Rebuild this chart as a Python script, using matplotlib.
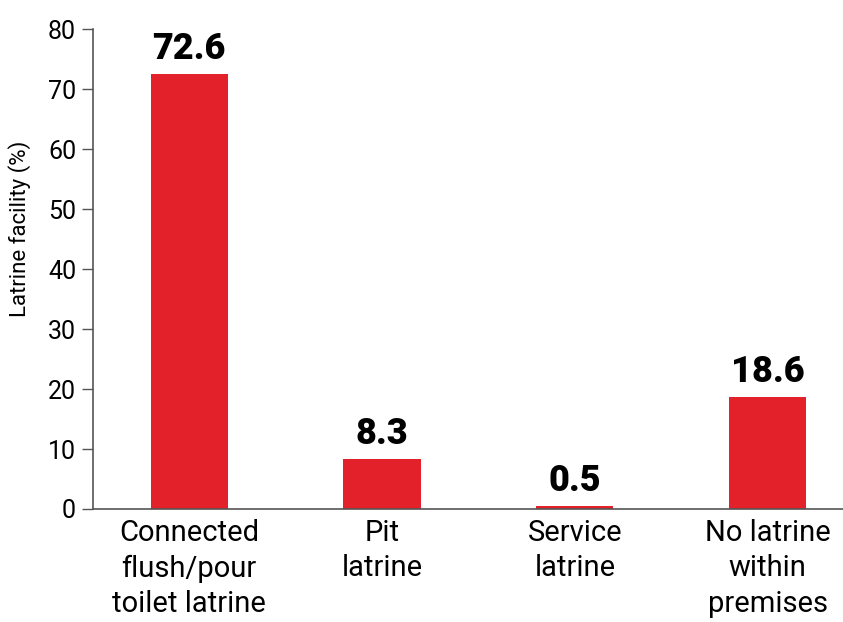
import matplotlib
matplotlib.use("Agg")
import matplotlib.pyplot as plt
from matplotlib import font_manager

categories = ["Connected\nflush/pour\ntoilet latrine", "Pit\nlatrine", "Service\nlatrine", "No latrine\nwithin\npremises"]
values = [72.6, 8.3, 0.5, 18.6]
yticks = [0, 10, 20, 30, 40, 50, 60, 70, 80]

names = {f.name for f in font_manager.fontManager.ttflist}
fam = "Roboto" if "Roboto" in names else "DejaVu Sans"
plt.rcParams['font.family'] = [fam, 'DejaVu Sans']

fig = plt.figure(figsize=(8.43, 6.22), dpi=100)
ax = fig.add_axes([0.110, 0.1817, 0.890, 0.7713])
x = list(range(len(categories)))
ax.bar(x, values, width=0.4, color="#e3212b")
for xi, v in zip(x, values):
    ax.annotate(f"{v}", (xi, v), xytext=(0, 5), textcoords="offset points",
                ha="center", va="bottom", fontsize=26, fontweight="black")
ax.set_xlim(-0.5, 3.39)
ax.set_ylim(0, 80)
ax.set_yticks(yticks)
ax.set_xticks(x)
ax.set_xticklabels(categories, fontsize=21, linespacing=1.35)
ax.tick_params(axis='x', length=0, pad=7)
ax.tick_params(axis='y', length=8, width=1, color="#555555", labelsize=18, pad=4)
for s in ["top", "right"]:
    ax.spines[s].set_visible(False)
for s in ["left", "bottom"]:
    ax.spines[s].set_color("#555555")
    ax.spines[s].set_linewidth(1.2)
ax.set_ylabel("Latrine facility (%)", fontsize=16)
ax.yaxis.set_label_coords(-0.082, 0.583)
fig.savefig("out.png", dpi=100)
